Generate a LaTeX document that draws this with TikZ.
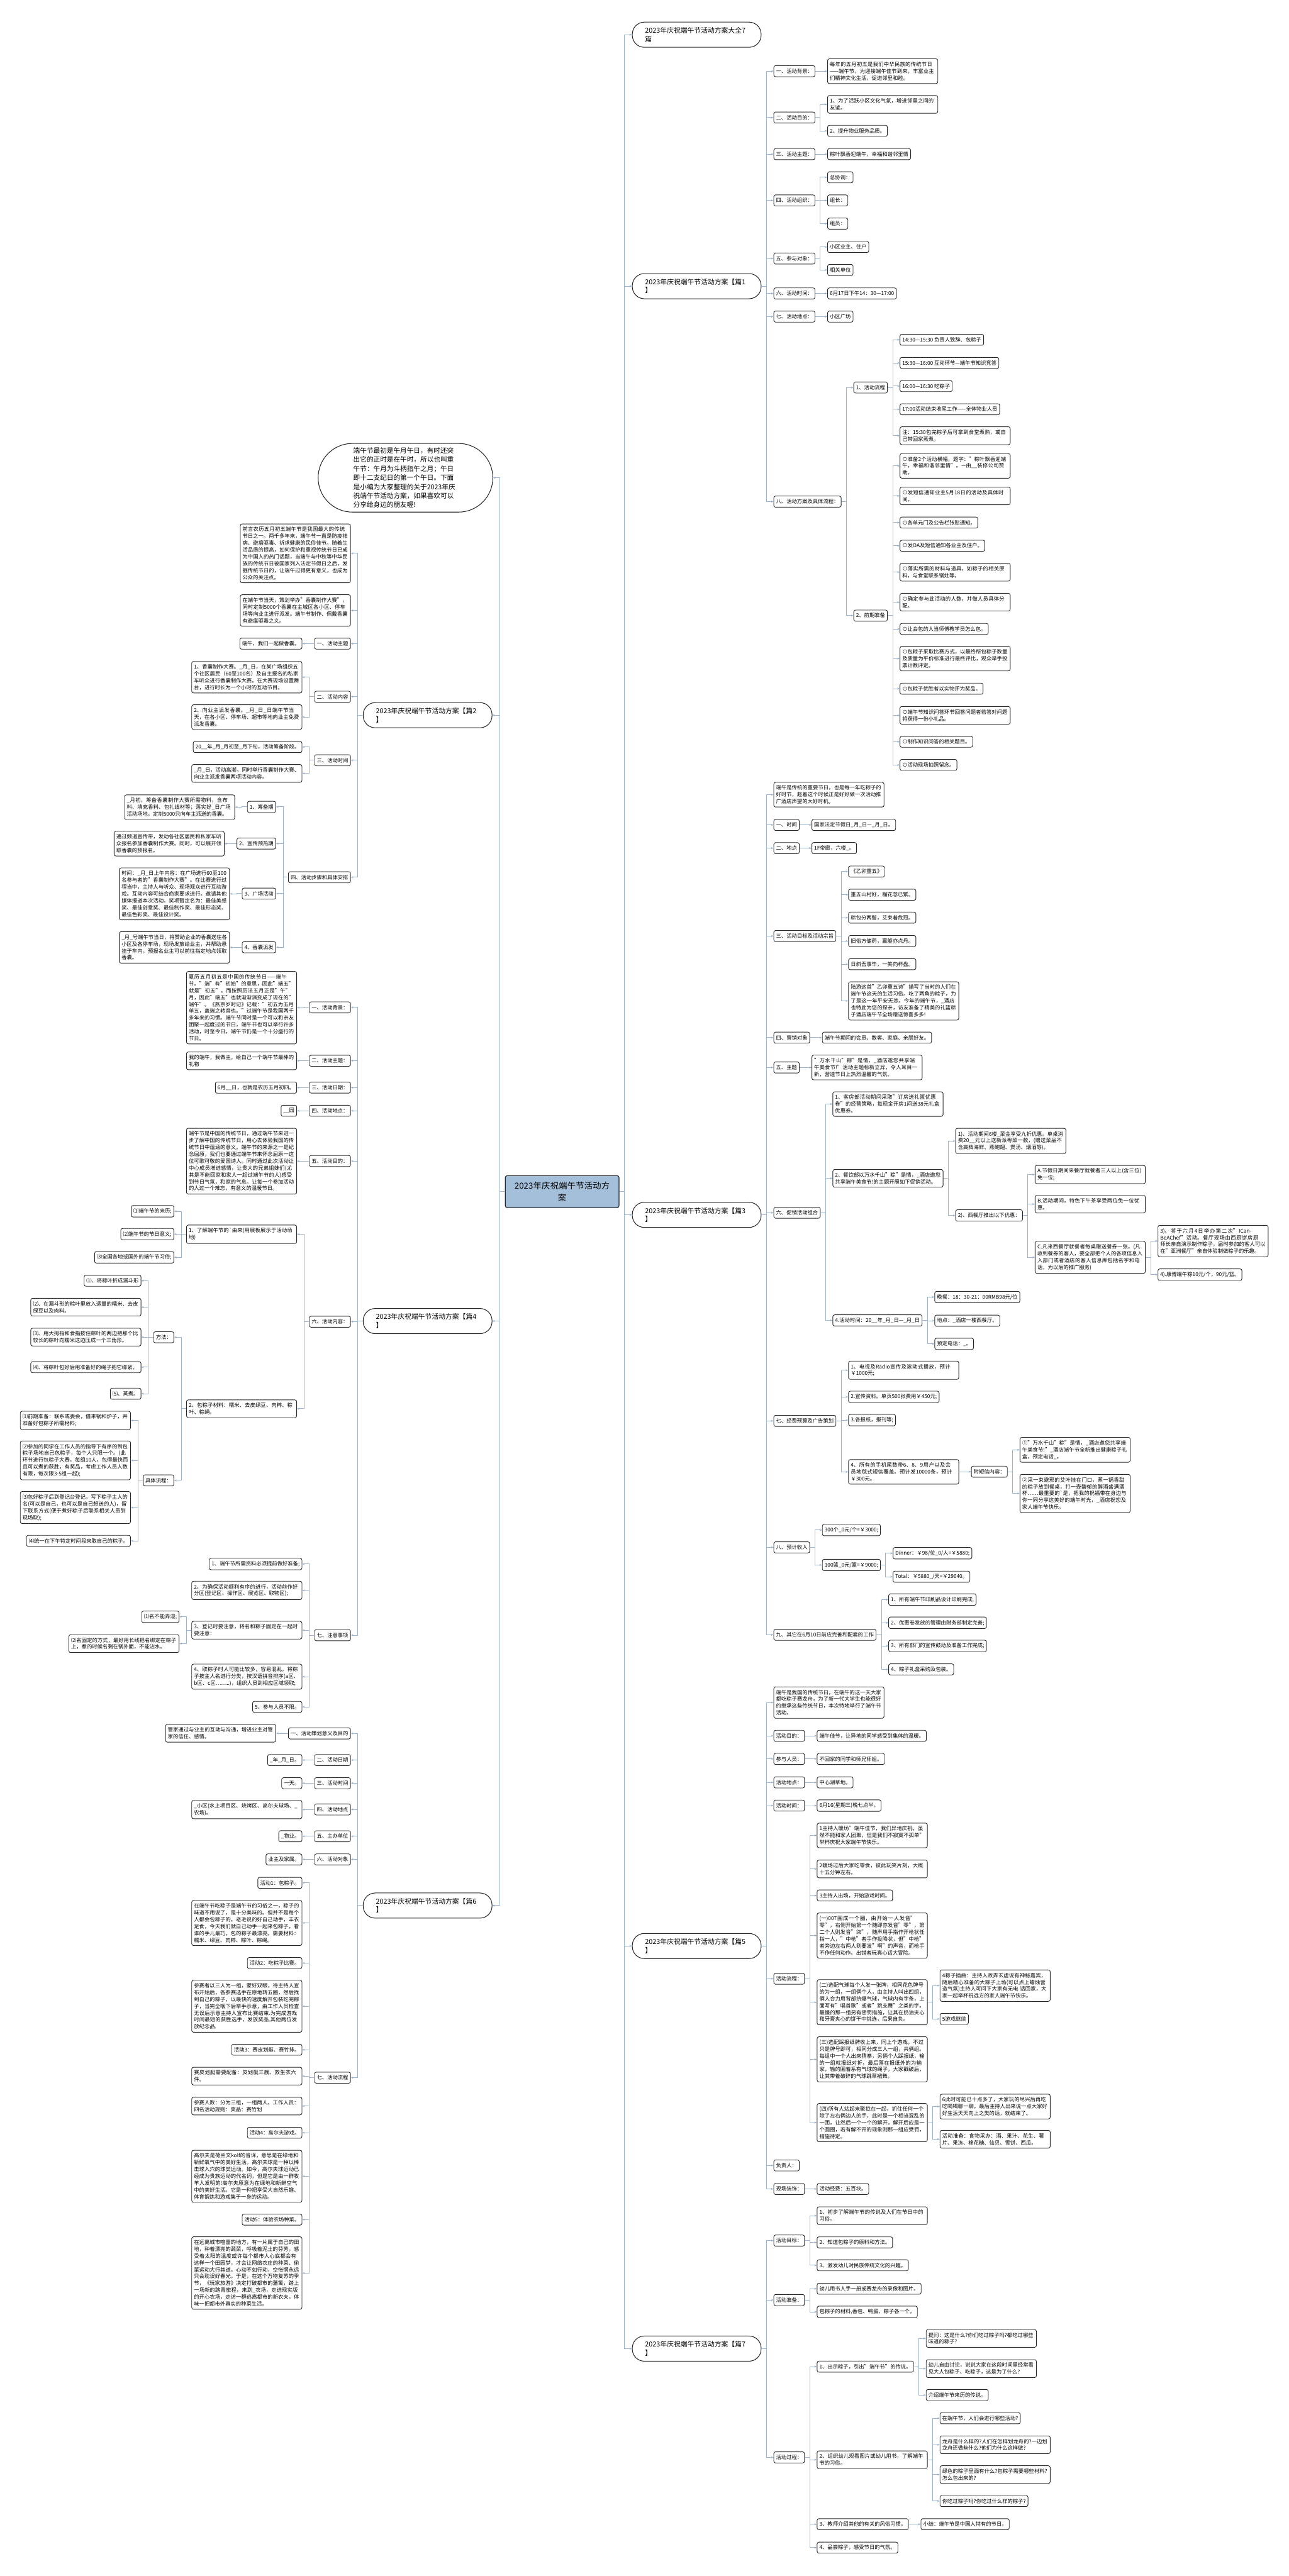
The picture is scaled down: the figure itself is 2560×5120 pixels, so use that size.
\documentclass[tikz,border=0pt]{standalone}
\usepackage{fontspec}
\setmainfont{Noto Sans CJK SC}
\XeTeXlinebreaklocale "zh"
\XeTeXlinebreakskip=0pt plus 1pt
\usetikzlibrary{arrows.meta}
\definecolor{linkblue}{HTML}{9CB4CB}
\definecolor{rootblue}{HTML}{A3BFD9}
\tikzset{
  box/.style={draw=black!85, line width=1.1pt, rounded corners=3.5pt, fill=white,
    font=\fontsize{10.4}{13.6}\selectfont, inner xsep=4.5pt, inner ysep=6pt,
    minimum height=22pt, align=left},
  long/.style={text width=210pt},
  kid/.style={box, anchor=west, xshift=24pt},
  lkid/.style={box, anchor=east, xshift=-24pt},
  pian/.style={draw=black!85, line width=1.3pt, rounded corners=24pt, fill=white,
    font=\fontsize{13.5}{17}\selectfont, text width=205pt, inner xsep=25.5pt,
    inner ysep=9.5pt, minimum height=50pt, align=left},
  intro/.style={draw=black!85, line width=1.3pt, rounded corners=68pt, fill=white,
    font=\fontsize{13.3}{18}\selectfont, text width=207pt, inner xsep=70pt,
    inner ysep=8pt, align=left},
  root/.style={draw=black!85, line width=1.4pt, rounded corners=4pt, fill=rootblue,
    font=\fontsize{16.6}{23.6}\selectfont, text width=210pt, inner xsep=8pt,
    inner ysep=12.4pt, align=center},
  link/.style={draw=linkblue, line width=1.2pt, -{Stealth[length=5pt,width=4pt]}},
}
\begin{document}
\begin{tikzpicture}[x=1pt, y=-1pt]
\fill[white] (0,0) rectangle (2560,5120);
\useasboundingbox (0,0) rectangle (2560,5120);

\node[root] (root) at (1117,2368.5) {2023年庆祝端午节活动方\\案};

% right half
\node[pian, anchor=west, xshift=25pt] (top) at (root.east |- 0,69) {2023年庆祝端午节活动方案大全7\\篇};
\node[pian, anchor=west, xshift=25pt] (p1) at (root.east |- 0,568.8) {2023年庆祝端午节活动方案【篇1\\】};
\node[pian, anchor=west, xshift=25pt] (p3) at (root.east |- 0,2414.6) {2023年庆祝端午节活动方案【篇3\\】};
\node[pian, anchor=west, xshift=25pt] (p5) at (root.east |- 0,3867.8) {2023年庆祝端午节活动方案【篇5\\】};
\node[pian, anchor=west, xshift=25pt] (p7) at (root.east |- 0,4668) {2023年庆祝端午节活动方案【篇7\\】};

% pian 1
\node[kid] (a1) at (p1.east |- 0,141.5) {一、活动背景：};
\node[kid] (a2) at (p1.east |- 0,233.6) {二、活动目的：};
\node[kid] (a3) at (p1.east |- 0,306.3) {三、活动主题：};
\node[kid] (a4) at (p1.east |- 0,398.4) {四、活动组织：};
\node[kid] (a5) at (p1.east |- 0,513.8) {五、参与对象：};
\node[kid] (a6) at (p1.east |- 0,583.2) {六、活动时间：};
\node[kid] (a7) at (p1.east |- 0,629.3) {七、活动地点：};
\node[kid] (a8) at (p1.east |- 0,997) {八、活动方案及具体流程：};
\node[kid,long] (a1-1) at (a1.east |- 0,141.5) {每年的五月初五是我们中华民族的传统节日——端午节，为迎接端午佳节到来，丰富业主们精神文化生活，促进邻里和睦。};
\node[kid,long] (a2-1) at (a2.east |- 0,207.5) {1、为了活跃小区文化气氛，增进邻里之间的友谊。};
\node[kid] (a2-2) at (a2.east |- 0,260) {2、提升物业服务品质。};
\node[kid] (a3-1) at (a3.east |- 0,306.3) {粽叶飘香迎端午，幸福和谐邻里情};
\node[kid] (a4-1) at (a4.east |- 0,352.4) {总协调：};
\node[kid] (a4-2) at (a4.east |- 0,398.4) {组长：};
\node[kid] (a4-3) at (a4.east |- 0,444.5) {组员：};
\node[kid] (a5-1) at (a5.east |- 0,491) {小区业主、住户};
\node[kid] (a5-2) at (a5.east |- 0,536.6) {相关单位};
\node[kid] (a6-1) at (a6.east |- 0,583.2) {6月17日下午14：30—17:00};
\node[kid] (a7-1) at (a7.east |- 0,629.3) {小区广场};
\node[kid] (a8-1) at (a8.east |- 0,770.2) {1、活动流程};
\node[kid] (a8-2) at (a8.east |- 0,1223.5) {2、前期准备};
\node[kid] (a8-1-1) at (a8-1.east |- 0,675.3) {14:30—15:30 负责人致辞、包粽子};
\node[kid] (a8-1-2) at (a8-1.east |- 0,721.4) {15:30—16:00 互动环节—端午节知识竞答};
\node[kid] (a8-1-3) at (a8-1.east |- 0,767.4) {16:00—16:30 吃粽子};
\node[kid] (a8-1-4) at (a8-1.east |- 0,813.5) {17:00活动结束收尾工作——全体物业人员};
\node[kid,long] (a8-1-5) at (a8-1.east |- 0,866) {注：15:30包完粽子后可拿到食堂煮熟，或自己带回家蒸煮。};
\node[kid,long] (a8-2-1) at (a8-2.east |- 0,926) {⊙准备2个活动横幅，题字："粽叶飘香迎端午，幸福和谐邻里情"。—由\_\_装修公司赞助。};
\node[kid,long] (a8-2-2) at (a8-2.east |- 0,985.7) {⊙发短信通知业主5月18日的活动及具体时间。};
\node[kid] (a8-2-3) at (a8-2.east |- 0,1038.7) {⊙各单元门及公告栏张贴通知。};
\node[kid] (a8-2-4) at (a8-2.east |- 0,1084.7) {⊙发OA及短信通知各业主及住户。};
\node[kid,long] (a8-2-5) at (a8-2.east |- 0,1137.2) {⊙落实所需的材料与道具，如粽子的相关原料，与食堂联系锅灶等。};
\node[kid,long] (a8-2-6) at (a8-2.east |- 0,1196.8) {⊙确定参与此活动的人数，并做人员具体分配。};
\node[kid] (a8-2-7) at (a8-2.east |- 0,1250) {⊙让会包的人当师傅教学员怎么包。};
\node[kid,long] (a8-2-8) at (a8-2.east |- 0,1309) {⊙包粽子采取比赛方式，以最终所包粽子数量及质量为平价标准进行最终评比，观众举手投票计数评定。};
\node[kid] (a8-2-9) at (a8-2.east |- 0,1368.8) {⊙包粽子优胜者以实物评为奖品。};
\node[kid,long] (a8-2-10) at (a8-2.east |- 0,1421.8) {⊙端午节知识问答环节回答问题者若答对问题将获得一份小礼品。};
\node[kid] (a8-2-11) at (a8-2.east |- 0,1474.3) {⊙制作知识问答的相关题目。};
\node[kid] (a8-2-12) at (a8-2.east |- 0,1520.3) {⊙活动现场拍照留念。};

% pian 3
\node[kid,long] (b0) at (p3.east |- 0,1579.5) {端午是传统的重要节日，也是每一年吃粽子的好时节，趁着这个时候正是好好做一次活动推广酒店声望的大好时机。};
\node[kid] (b1) at (p3.east |- 0,1639.6) {一、时间};
\node[kid] (b2) at (p3.east |- 0,1685.7) {二、地点};
\node[kid] (b3) at (p3.east |- 0,1860.4) {三、活动目标及活动宗旨};
\node[kid] (b4) at (p3.east |- 0,2062.4) {四、营销对象};
\node[kid] (b5) at (p3.east |- 0,2121.7) {五、主题};
\node[kid] (b6) at (p3.east |- 0,2410.3) {六、促销活动组合};
\node[kid] (b7) at (p3.east |- 0,2824.1) {七、经费预算及广告策划};
\node[kid] (b8) at (p3.east |- 0,3075.5) {八、预计收入};
\node[kid] (b9) at (p3.east |- 0,3249.2) {九、其它在6月10日前应完善和配套的工作};
\node[kid] (b1-1) at (b1.east |- 0,1639.6) {国家法定节假日\_月\_日—\_月\_日。};
\node[kid] (b2-1) at (b2.east |- 0,1685.7) {1F帝廊，六楼\_。};
\node[kid] (b3-1) at (b3.east |- 0,1732.2) {《乙卯重五》};
\node[kid] (b3-2) at (b3.east |- 0,1778.3) {重五山村好，榴花忽已繁。};
\node[kid] (b3-3) at (b3.east |- 0,1823.8) {粽包分两髻，艾束着危冠。};
\node[kid] (b3-4) at (b3.east |- 0,1870.4) {旧俗方储药，羸躯亦点丹。};
\node[kid] (b3-5) at (b3.east |- 0,1916.4) {日斜吾事毕，一笑向杯盘。};
\node[kid,long] (b3-6) at (b3.east |- 0,1989.4) {陆游这首"乙卯重五诗"描写了当时的人们在端午节这天的生活习俗。吃了两角的粽子，为了是这一年平安无恙。今年的端午节，\_酒店也特此为您的探亲，访友准备了精美的礼篮粽子酒店端午节全场赠送惊喜多多!};
\node[kid] (b4-1) at (b4.east |- 0,2062.4) {端午节期间的会员、散客、家庭、亲朋好友。};
\node[kid,long] (b5-1) at (b5.east |- 0,2121.7) {"万水千山"粽"是情，\_酒店邀您共享端午美食节!"活动主题标新立异，令人耳目一新，营造节日上热烈温馨的气氛。};
\node[kid,long] (b6-1) at (b6.east |- 0,2194.4) {1、客房部活动期间采取"订房送礼篮优惠卷"的经营策略，每现金开房1间送38元礼盒优惠券。};
\node[kid,long] (b6-2) at (b6.east |- 0,2342) {2、餐饮部以万水千山"粽"是情，\_酒店邀您共享端午美食节!的主题开展如下促销活动。};
\node[kid] (b6-3) at (b6.east |- 0,2624.4) {4.活动时间：20\_\_年\_月\_日—\_月\_日};
\node[kid,long] (b6-2-1) at (b6-2.east |- 0,2267.7) {1)、活动期间6楼\_菜金享受九折优惠。单桌消费20\_\_元以上送新派粤菜一款，(赠送菜品不含高档海鲜、燕鲍翅、煲汤、烟酒等)。};
\node[kid] (b6-2-2) at (b6-2.east |- 0,2415.8) {2)、西餐厅推出以下优惠：};
\node[kid,long] (b6a) at (b6-2-2.east |- 0,2334.5) {A.节假日期间来餐厅就餐者三人以上(含三位)免一位;};
\node[kid,long] (b6b) at (b6-2-2.east |- 0,2393.4) {B.活动期间，特色下午茶享受两位免一位优惠。};
\node[kid,long] (b6c) at (b6-2-2.east |- 0,2499) {C.凡来西餐厅就餐者每桌赠送餐券一张。(凡收到餐券的客人，要全部把个人的各项信息入入部门或者酒店的客人信息库包括名字和电话，为以后的推广服务)};
\node[kid,long] (b6c1) at (b6c.east |- 0,2466.6) {3)、将于六月4日举办第二次"ICanBeAChef"活动。餐厅现场由西厨饼房厨师长亲自演示制作粽子，届时参加的客人可以在"亚洲餐厅"亲自体验制做粽子的乐趣。};
\node[kid] (b6c2) at (b6c.east |- 0,2533.5) {4).康博端午粽10元/个，90元/篮。};
\node[kid] (b6-3-1) at (b6-3.east |- 0,2578) {晚餐：18：30-21：00RMB98元/位};
\node[kid] (b6-3-2) at (b6-3.east |- 0,2625) {地点：\_酒店一楼西餐厅。};
\node[kid] (b6-3-3) at (b6-3.east |- 0,2671) {预定电话：\_。};
\node[kid,long] (b7-1) at (b7.east |- 0,2723.4) {1、电视及Radio宣传及滚动式播放，预计￥1000元;};
\node[kid] (b7-2) at (b7.east |- 0,2776.4) {2.宣传资料。单页500张费用￥450元;};
\node[kid] (b7-3) at (b7.east |- 0,2822.5) {3.各报纸，报刊等;};
\node[kid,long] (b7-4) at (b7.east |- 0,2925.4) {4、所有的手机尾数带6、8、9用户以及会员地毯式短信覆盖。预计发10000条，预计￥300元。};
\node[kid] (b7-5) at (b7-4.east |- 0,2925.1) {附短信内容：};
\node[kid,long] (b7-5-1) at (b7-5.east |- 0,2881.6) {①"万水千山"粽"是情，\_酒店邀您共享端午美食节!"\_酒店端午节全新推出健康粽子礼盒，预定电话\_。};
\node[kid,long] (b7-5-2) at (b7-5.east |- 0,2968.4) {②采一束避邪的艾叶挂在门口，蒸一锅香甜的粽子放到餐桌，打一壶馥郁的醇酒盛满酒杯……最重要的\textasciigrave 是，把我的祝福带在身边与你一同分享这美好的端午时光，\_酒店祝您及家人端午节快乐。};
\node[kid] (b8-1) at (b8.east |- 0,3041) {300个\_0元/个=￥3000;};
\node[kid] (b8-2) at (b8.east |- 0,3110.5) {100篮\_0元/篮=￥9000;};
\node[kid] (b8-2-1) at (b8-2.east |- 0,3087.2) {Dinner：￥98/位\_0/人=￥5880;};
\node[kid] (b8-2-2) at (b8-2.east |- 0,3133.8) {Total：￥5880\_/天=￥29640。};
\node[kid] (b9-1) at (b9.east |- 0,3179.3) {1、所有端午节印刷品设计印刷完成;};
\node[kid] (b9-2) at (b9.east |- 0,3225.3) {2、优惠卷发放的管理由财务部制定完善;};
\node[kid] (b9-3) at (b9.east |- 0,3271.4) {3、所有部门的宣传鼓动及准备工作完成;};
\node[kid] (b9-4) at (b9.east |- 0,3318) {4、粽子礼盒采购及包装。};

% pian 5
\node[kid,long] (c0) at (p5.east |- 0,3384) {端午是我国的传统节日，在端午的这一天大家都吃粽子赛龙舟，为了新一代大学生也能很好的继承这些传统节日，本次特地举行了端午节活动。};
\node[kid] (c1) at (p5.east |- 0,3450) {活动目的：};
\node[kid] (c2) at (p5.east |- 0,3496) {参与人员：};
\node[kid] (c3) at (p5.east |- 0,3542.7) {活动地点：};
\node[kid] (c4) at (p5.east |- 0,3588.7) {活动时间：};
\node[kid] (c5) at (p5.east |- 0,3932.8) {活动流程：};
\node[kid] (c6) at (p5.east |- 0,4304) {负责人：};
\node[kid] (c7) at (p5.east |- 0,4350.7) {现场装饰：};
\node[kid] (c1-1) at (c1.east |- 0,3450) {端午佳节，让异地的同学感受到集体的温暖。};
\node[kid] (c2-1) at (c2.east |- 0,3496) {不回家的同学和师兄师姐。};
\node[kid] (c3-1) at (c3.east |- 0,3542.7) {中心湖草地。};
\node[kid] (c4-1) at (c4.east |- 0,3588.7) {6月16(星期三)晚七点半。};
\node[kid] (c7-1) at (c7.east |- 0,4350.7) {活动经费：五百块。};
\node[kid,long] (c5-1) at (c5.east |- 0,3648) {1主持人暖场"端午佳节，我们异地庆祝，虽然不能和家人团聚，但是我们不寂寞不孤单"举杯庆祝大家端午节快乐。};
\node[kid,long] (c5-2) at (c5.east |- 0,3714.7) {2暖场过后大家吃零食，彼此玩笑片刻，大概十五分钟左右。};
\node[kid] (c5-3) at (c5.east |- 0,3767.4) {3主持人出场，开始游戏时间。};
\node[kid,long] (c5-4) at (c5.east |- 0,3847) {(一)007围成一个圈，由开始一人发音"零"，右侧开始第一个随即亦发音"零"，第二个人则发音"柒"，随声用手指作开枪状任指一人，"中枪"者手作投降状，但"中枪"者旁边左右两人则要发"啊"的声音，而枪手不作任何动作。出错者玩真心话大冒险。};
\node[kid,long] (c5-5) at (c5.east |- 0,3979.6) {(二)选配气球每个人发一张牌，相同花色牌号的为一组，一组俩个人，由主持人叫出四组，俩人合力用背部挤爆气球，气球内有字条，上面写有"唱首歌"或者"跳支舞"之类的字。最慢的那一组另有惩罚措施，让其在奶油夹心和牙膏夹心的饼干中挑选，后果自负。};
\node[kid,long] (c5-6) at (c5.east |- 0,4093) {(三)选配踩报纸牌收上来，同上个游戏，不过只是牌号即可，相同分成三人一组，共俩组。每组中一个人出来猜拳，另俩个人踩报纸，输的一组就报纸对折，最后落在报纸外的为输家，输的围着系有气球的绳子，大家戳破后，让其带着破碎的气球跳草裙舞。};
\node[kid,long] (c5-7) at (c5.east |- 0,4218.8) {(四)所有人站起来聚拢在一起，抓住任何一个除了左右俩边人的手，此时是一个相当混乱的一团，让然后一个一个的解开，解开后应是一个圆圈，若有解不开的现象则那一组应受罚，措施待定。};
\node[kid,long] (c5-5-1) at (c5-5.east |- 0,3946.6) {4粽子插曲：主持人故弄玄虚说有神秘嘉宾，随后精心准备的大粽子上场(可以点上蜡烛营造气氛)主持人可问下大家有无电 话回家，大家一起举杯祝远方的家人端午节快乐。};
\node[kid] (c5-5-2) at (c5-5.east |- 0,4012.7) {5游戏继续};
\node[kid,long] (c5-7-1) at (c5-7.east |- 0,4186.9) {6此时可能已十点多了，大家玩的尽兴后再吃吃喝喝聊一聊。最后主持人出来说一点大家好好生活天天向上之类的话，就结束了。};
\node[kid,long] (c5-7-2) at (c5-7.east |- 0,4251.8) {活动准备：食物采办：酒、果汁、花生、薯片、果冻、棉花糖、仙贝、雪饼、西瓜。};

% pian 7
\node[kid] (d1) at (p7.east |- 0,4453.2) {活动目标：};
\node[kid] (d2) at (p7.east |- 0,4571.4) {活动准备：};
\node[kid] (d3) at (p7.east |- 0,4884.2) {活动过程：};
\node[kid,long] (d1-1) at (d1.east |- 0,4403.8) {1、初步了解端午节的传说及人们在节日中的习俗。};
\node[kid] (d1-2) at (d1.east |- 0,4456.9) {2、知道包粽子的原料和方法。};
\node[kid] (d1-3) at (d1.east |- 0,4502.4) {3、激发幼儿对民族传统文化的兴趣。};
\node[kid] (d2-1) at (d2.east |- 0,4549) {幼儿用书人手一册或赛龙舟的录像和图片。};
\node[kid] (d2-2) at (d2.east |- 0,4595) {包粽子的材料,香包、鸭蛋、粽子各一个。};
\node[kid] (d3-1) at (d3.east |- 0,4703.8) {1、出示粽子，引出"端午节"的传说。};
\node[kid,long] (d3-2) at (d3.east |- 0,4888.9) {2、组织幼儿观看图片或幼儿用书，了解端午节的习俗。};
\node[kid] (d3-3) at (d3.east |- 0,5017) {3、教师介绍其他的有关的风俗习惯。};
\node[kid] (d3-4) at (d3.east |- 0,5063.6) {4、品尝粽子，感受节日的气氛。};
\node[kid,long] (d3-1-1) at (d3-1.east |- 0,4647.8) {提问：这是什么?你们吃过粽子吗?都吃过哪些味道的粽子?};
\node[kid,long] (d3-1-2) at (d3-1.east |- 0,4707.7) {幼儿自由讨论，说说大家在这段时间里经常看见大人包粽子、吃粽子，这是为了什么?};
\node[kid] (d3-1-3) at (d3-1.east |- 0,4760.2) {介绍端午节来历的传说。};
\node[kid] (d3-2-1) at (d3-2.east |- 0,4806.3) {在端午节，人们会进行哪些活动?};
\node[kid,long] (d3-2-2) at (d3-2.east |- 0,4859.1) {龙舟是什么样的?人们在怎样划龙舟的?一边划龙舟还做些什么?他们为什么这样做?};
\node[kid,long] (d3-2-3) at (d3-2.east |- 0,4918.4) {绿色的粽子里面有什么?包粽子需要哪些材料?怎么包出来的?};
\node[kid] (d3-2-4) at (d3-2.east |- 0,4971) {你吃过粽子吗?你吃过什么样的粽子?};
\node[kid] (d3-3-1) at (d3-3.east |- 0,5017) {小结：端午节是中国人特有的节日。};

% left half
\node[intro, anchor=east, xshift=-23.5pt] (intro) at (root.west |- 0,949.6) {端午节最初是午月午日，有时还突\\出它的正时是在午时，所以也叫重\\午节：午月为斗柄指午之月；午日\\即十二支纪日的第一个午日。下面\\是小编为大家整理的关于2023年庆\\祝端午节活动方案，如果喜欢可以\\分享给身边的朋友喔!};
\node[pian, anchor=east, xshift=-25pt] (p2) at (root.west |- 0,1421.5) {2023年庆祝端午节活动方案【篇2\\】};
\node[pian, anchor=east, xshift=-25pt] (p4) at (root.west |- 0,2625.7) {2023年庆祝端午节活动方案【篇4\\】};
\node[pian, anchor=east, xshift=-25pt] (p6) at (root.west |- 0,3787.4) {2023年庆祝端午节活动方案【篇6\\】};

% pian 2
\node[lkid,long] (e1) at (p2.west |- 0,1099.8) {前言农历五月初五端午节是我国最大的传统节日之一。两千多年来，端午节一直是防疫祛病、避瘟驱毒、祈求健康的民俗佳节。随着生活品质的提高，如何保护和重视传统节日已成为中国人的热门话题，当端午与中秋等中华民族的传统节日被国家列入法定节假日之后，发掘传统节日的，让端午过得更有意义，也成为公众的关注点。};
\node[lkid,long] (e2) at (p2.west |- 0,1213.3) {在端午节当天，策划举办"香囊制作大赛"，同时定制5000个香囊在主城区各小区、停车场等向业主进行派发。端午节制作、佩戴香囊有避瘟驱毒之义。};
\node[lkid] (e3) at (p2.west |- 0,1279.3) {一、活动主题};
\node[lkid] (e4) at (p2.west |- 0,1384.8) {二、活动内容};
\node[lkid] (e5) at (p2.west |- 0,1511.1) {三、活动时间};
\node[lkid] (e6) at (p2.west |- 0,1743.6) {四、活动步骤和具体安排};
\node[lkid] (e3-1) at (e3.west |- 0,1279.3) {端午，我们一起做香囊。};
\node[lkid,long] (e4-1) at (e4.west |- 0,1346) {1、香囊制作大赛。\_月\_日，在某广场组织五个社区居民（60至100名）及自主报名的私家车听众进行香囊制作大赛。在大赛现场设置舞台，进行时长为一个小时的互动节目。};
\node[lkid,long] (e4-2) at (e4.west |- 0,1425.2) {2、向业主派发香囊。\_月\_日\_日端午节当天，在各小区、停车场、超市等地向业主免费派发香囊。};
\node[lkid] (e5-1) at (e5.west |- 0,1484.7) {20\_\_年\_月\_月初至\_月下旬，活动筹备阶段。};
\node[lkid,long] (e5-2) at (e5.west |- 0,1537.2) {\_月\_日，活动高潮，同时举行香囊制作大赛、向业主派发香囊两项活动内容。};
\node[lkid] (e6-1) at (e6.west |- 0,1603.7) {1、筹备期};
\node[lkid] (e6-2) at (e6.west |- 0,1676.6) {2、宣传预热期};
\node[lkid] (e6-3) at (e6.west |- 0,1776.1) {3、广场活动};
\node[lkid] (e6-4) at (e6.west |- 0,1882.7) {4、香囊派发};
\node[lkid,long] (e6-1-1) at (e6-1.west |- 0,1604.3) {\_月初，筹备香囊制作大赛所需物料，含布料、填充香料、包扎线材等；落实好\_日广场活动场地。定制5000只向车主派送的香囊。};
\node[lkid,long] (e6-2-1) at (e6-2.west |- 0,1676.9) {通过频道宣传带，发动各社区居民和私家车听众报名参加香囊制作大赛。同时，可以展开领取香囊的预报名。};
\node[lkid,long] (e6-3-1) at (e6-3.west |- 0,1776.6) {时间：\_月\_日上午内容：在广场进行60至100名参与者的"香囊制作大赛"。在比赛进行过程当中，主持人与听众、现场观众进行互动游戏。互动内容可结合商家要求进行。邀请其他媒体报道本次活动。奖项暂定名为：最佳美感奖、最佳创意奖、最佳制作奖、最佳形态奖、最佳色彩奖、最佳设计奖。};
\node[lkid,long] (e6-4-1) at (e6-4.west |- 0,1883) {\_月\_号端午节当日，将赞助企业的香囊送往各小区及各停车场，现场发放给业主，并帮助悬挂于车内。预报名业主可以前往指定地点领取香囊。};

% pian 4
\node[lkid] (f1) at (p4.west |- 0,2002.3) {一、活动背景：};
\node[lkid] (f2) at (p4.west |- 0,2108.3) {二、活动主题：};
\node[lkid] (f3) at (p4.west |- 0,2161.7) {三、活动日期：};
\node[lkid] (f4) at (p4.west |- 0,2207.7) {四、活动地点：};
\node[lkid] (f5) at (p4.west |- 0,2307.6) {五、活动目的：};
\node[lkid] (f6) at (p4.west |- 0,2627) {六、活动内容：};
\node[lkid] (f7) at (p4.west |- 0,3250) {七、注意事项};
\node[lkid,long] (f1-1) at (f1.west |- 0,2002.8) {夏历五月初五是中国的传统节日——端午节。"端"有"初始"的意思，因此"端五"就是"初五"。而按照历法五月正是"午"月，因此"端五"也就渐渐演变成了现在的"端午"。《燕京岁时记》记载："初五为五月单五，盖端之转音也。"过端午节是我国两千多年来的习惯。端午节同时是一个可以和亲友团聚一起度过的节日，端午节也可以举行许多活动，时至今日，端午节仍是一个十分盛行的节日。};
\node[lkid,long] (f2-1) at (f2.west |- 0,2108.5) {我的端午，我做主，给自己一个端午节最棒的礼物};
\node[lkid] (f3-1) at (f3.west |- 0,2161.7) {6月\_\_日，也就是农历五月初四。};
\node[lkid] (f4-1) at (f4.west |- 0,2207.7) {\_\_园};
\node[lkid,long] (f5-1) at (f5.west |- 0,2307.9) {端午节是中国的传统节日，通过端午节来进一步了解中国的传统节日，用心去体验我国的传统节日中蕴涵的意义。端午节的来源之一是纪念屈原，我们也要通过端午节来怀念屈原一这位可歌可敬的爱国诗人。同时通过此次活动让中心成员增进感情，让贵大的兄弟姐妹们(尤其是不能回家和家人一起过端午节的人)感受到节日气氛，和家的气息。让每一个参加活动的人过一个难忘，有意义的温暖节日。};
\node[lkid,long] (f6-1) at (f6.west |- 0,2453.2) {1、了解端午节的\textasciigrave 由来(用展板展示于活动场地)};
\node[lkid,long] (f6-2) at (f6.west |- 0,2799.9) {2、包粽子材料：糯米、去皮绿豆、肉粹、粽叶、粽绳。};
\node[lkid] (f6-1-1) at (f6-1.west |- 0,2407.5) {⑴端午节的来历;};
\node[lkid] (f6-1-2) at (f6-1.west |- 0,2453) {⑵端午节的节日意义;};
\node[lkid] (f6-1-3) at (f6-1.west |- 0,2499) {⑶全国各地或国外的端午节习俗;};
\node[lkid] (f6-2a) at (f6-2.west |- 0,2657.9) {方法：};
\node[lkid] (f6-2b) at (f6-2.west |- 0,2942.4) {具体流程：};
\node[lkid] (f6-2a-1) at (f6-2a.west |- 0,2545.5) {⑴、将粽叶折成漏斗形};
\node[lkid,long] (f6-2a-2) at (f6-2a.west |- 0,2598) {⑵、在漏斗形的粽叶里放入适量的糯米、去皮绿豆以及肉料。};
\node[lkid,long] (f6-2a-3) at (f6-2a.west |- 0,2657.6) {⑶、用大拇指和食指按住粽叶的两边把那个比较长的粽叶向糯米这边压成一个三角形。};
\node[lkid,long] (f6-2a-4) at (f6-2a.west |- 0,2717.4) {⑷、将粽叶包好后用准备好的绳子把它绑紧。};
\node[lkid] (f6-2a-5) at (f6-2a.west |- 0,2770.1) {⑸、蒸煮。};
\node[lkid,long] (f6-2b-1) at (f6-2b.west |- 0,2823.2) {⑴前期准备：联系或委会，借来锅和炉子，并准备好包粽子所需材料;};
\node[lkid,long] (f6-2b-2) at (f6-2b.west |- 0,2902.6) {⑵参加的同学在工作人员的指导下有序的到包粽子场地自己包粽子，每个人只限一个。(此环节进行包粽子大赛，每组10人，包得最快而且可以煮的获胜，有奖品，考虑工作人员人数有限，每次限3-5组一起);};
\node[lkid,long] (f6-2b-3) at (f6-2b.west |- 0,2996.3) {⑶包好粽子后到登记台登记，写下粽子主人的名(可以是自己，也可以是自己想送的人)，留下联系方式(便于煮好粽子后联系相关人员到现场取);};
\node[lkid] (f6-2b-4) at (f6-2b.west |- 0,3062.5) {⑷统一在下午特定时间段来取自己的粽子。};
\node[lkid] (f7-1) at (f7.west |- 0,3108.6) {1、端午节所需资料必须提前做好准备;};
\node[lkid,long] (f7-2) at (f7.west |- 0,3161) {2、为确保活动顺利有序的进行，活动前作好分区(登记区、操作区、展览区、取物区);};
\node[lkid,long] (f7-3) at (f7.west |- 0,3240.1) {3、登记时要注意，将名和粽子固定在一起时要注意：};
\node[lkid,long] (f7-4) at (f7.west |- 0,3332.5) {4、取粽子时人可能比较多，容易混乱。将粽子按主人名进行分类，按汉语拼音排序(a区、b区、c区……..)，组织人员到相应区域领取;};
\node[lkid] (f7-5) at (f7.west |- 0,3392.5) {5、参与人员不限。};
\node[lkid] (f7-3-1) at (f7-3.west |- 0,3213.5) {⑴名不能弄混;};
\node[lkid,long] (f7-3-2) at (f7-3.west |- 0,3266.8) {⑵名固定的方式，最好用长线把名绑定在粽子上，煮的时候名剩在锅外面，不能沾水。};

% pian 6
\node[lkid] (g1) at (p6.west |- 0,3445.3) {一、活动策划意义及目的};
\node[lkid] (g2) at (p6.west |- 0,3498.2) {二、活动日期};
\node[lkid] (g3) at (p6.west |- 0,3544.2) {三、活动时间};
\node[lkid] (g4) at (p6.west |- 0,3596.4) {四、活动地点};
\node[lkid] (g5) at (p6.west |- 0,3649.7) {五、主办单位};
\node[lkid] (g6) at (p6.west |- 0,3695.7) {六、活动对象};
\node[lkid] (g7) at (p6.west |- 0,4129.5) {七、活动流程};
\node[lkid,long] (g1-1) at (g1.west |- 0,3445) {管家通过与业主的互动与沟通，增进业主对管家的信任、感情。};
\node[lkid] (g2-1) at (g2.west |- 0,3498.2) {\_年\_月\_日。};
\node[lkid] (g3-1) at (g3.west |- 0,3544.2) {一天。};
\node[lkid,long] (g4-1) at (g4.west |- 0,3596.6) {\_小区(水上项目区、烧烤区、高尔夫球场、\_农场)。};
\node[lkid] (g5-1) at (g5.west |- 0,3649.7) {\_物业。};
\node[lkid] (g6-1) at (g6.west |- 0,3695.7) {业主及家属。};
\node[lkid] (g7-1) at (g7.west |- 0,3742.3) {活动1：包粽子。};
\node[lkid,long] (g7-2) at (g7.west |- 0,3822) {在端午节吃粽子是端午节的习俗之一，粽子的味道不用说了，是十分美味的。但并不是每个人都会包粽子的。老毛说的好自己动手，丰衣足食，今天我们就自己动手一起来包粽子，看谁的手儿最巧，包的粽子最漂亮。需要材料：糯米、绿豆、肉粹、粽叶、粽绳。};
\node[lkid] (g7-3) at (g7.west |- 0,3901.7) {活动2：吃粽子比赛。};
\node[lkid,long] (g7-4) at (g7.west |- 0,3987.5) {参赛者以三人为一组，蒙好双眼，待主持人宣布开始后，各参赛选手在原地转五圈，然后找到自己的粽子，以最快的速度解开包装吃完粽子，当完全咽下后举手示意，由工作人员检查无误后示意主持人宣布比赛结束.为完成游戏时间最短的获胜选手，发放奖品.其他两位发放纪念品.};
\node[lkid] (g7-5) at (g7.west |- 0,4074) {活动3：赛皮划艇、赛竹排。};
\node[lkid,long] (g7-6) at (g7.west |- 0,4126.4) {赛皮划艇需要配备：皮划艇三艘、救生衣六件。};
\node[lkid,long] (g7-7) at (g7.west |- 0,4185.9) {参赛人数：分为三组，一组两人。工作人员：四名活动规则：奖品：赛竹划};
\node[lkid] (g7-8) at (g7.west |- 0,4239) {活动4：高尔夫游戏。};
\node[lkid,long] (g7-9) at (g7.west |- 0,4325.5) {高尔夫是荷兰文kolf的音译，意思是在绿地和新鲜氧气中的美好生活。高尔夫球是一种以棒击球入穴的球类运动。如今，高尔夫球运动已经成为贵族运动的代名词，但是它是由一群牧羊人发明的!高尔夫原意为在绿地和新鲜空气中的美好生活。它是一种把享受大自然乐趣、体育锻炼和游戏集于一身的运动。};
\node[lkid] (g7-10) at (g7.west |- 0,4411.6) {活动5：体验农场种菜。};
\node[lkid,long] (g7-11) at (g7.west |- 0,4517.8) {在远离城市喧嚣的地方，有一片属于自己的田地，种着漂亮的蔬菜，呼吸着泥土的芬芳，感受着太阳的温度或许每个都市人心底都会有这样一个田园梦，才会让网络农庄的种菜、偷菜运动大行其道。心动不如行动，空怅惘永远只会耽误好春光。于是，在这个万物复苏的季节，《玩家旅游》决定打破都市的藩篱，踏上一场新的踏青旅程，来到\_农场，走进现实版的开心农场，走访一群逃离都市的新农夫，体味一把都市外真实的种菜生活。};

% connectors, right half
\foreach \p/\kids in {root/{top,p1,p3,p5,p7},
    p1/{a1,a2,a3,a4,a5,a6,a7,a8}, a1/{a1-1}, a2/{a2-1,a2-2}, a3/{a3-1},
    a4/{a4-1,a4-2,a4-3}, a5/{a5-1,a5-2}, a6/{a6-1}, a7/{a7-1}, a8/{a8-1,a8-2},
    a8-1/{a8-1-1,a8-1-2,a8-1-3,a8-1-4,a8-1-5},
    a8-2/{a8-2-1,a8-2-2,a8-2-3,a8-2-4,a8-2-5,a8-2-6,a8-2-7,a8-2-8,a8-2-9,a8-2-10,a8-2-11,a8-2-12},
    p3/{b0,b1,b2,b3,b4,b5,b6,b7,b8,b9}, b1/{b1-1}, b2/{b2-1},
    b3/{b3-1,b3-2,b3-3,b3-4,b3-5,b3-6}, b4/{b4-1}, b5/{b5-1},
    b6/{b6-1,b6-2,b6-3}, b6-2/{b6-2-1,b6-2-2}, b6-2-2/{b6a,b6b,b6c}, b6c/{b6c1,b6c2},
    b6-3/{b6-3-1,b6-3-2,b6-3-3}, b7/{b7-1,b7-2,b7-3,b7-4}, b7-4/{b7-5},
    b7-5/{b7-5-1,b7-5-2}, b8/{b8-1,b8-2}, b8-2/{b8-2-1,b8-2-2}, b9/{b9-1,b9-2,b9-3,b9-4},
    p5/{c0,c1,c2,c3,c4,c5,c6,c7}, c1/{c1-1}, c2/{c2-1}, c3/{c3-1}, c4/{c4-1}, c7/{c7-1},
    c5/{c5-1,c5-2,c5-3,c5-4,c5-5,c5-6,c5-7}, c5-5/{c5-5-1,c5-5-2}, c5-7/{c5-7-1,c5-7-2},
    p7/{d1,d2,d3}, d1/{d1-1,d1-2,d1-3}, d2/{d2-1,d2-2}, d3/{d3-1,d3-2,d3-3,d3-4},
    d3-1/{d3-1-1,d3-1-2,d3-1-3}, d3-2/{d3-2-1,d3-2-2,d3-2-3,d3-2-4}, d3-3/{d3-3-1}}
  \foreach \k in \kids
    \draw[link] (\p.east) -- ++(10,0) |- (\k.west);

% connectors, left half
\foreach \p/\kids in {root/{intro,p2,p4,p6},
    p2/{e1,e2,e3,e4,e5,e6}, e3/{e3-1}, e4/{e4-1,e4-2}, e5/{e5-1,e5-2},
    e6/{e6-1,e6-2,e6-3,e6-4}, e6-1/{e6-1-1}, e6-2/{e6-2-1}, e6-3/{e6-3-1}, e6-4/{e6-4-1},
    p4/{f1,f2,f3,f4,f5,f6,f7}, f1/{f1-1}, f2/{f2-1}, f3/{f3-1}, f4/{f4-1}, f5/{f5-1},
    f6/{f6-1,f6-2}, f6-1/{f6-1-1,f6-1-2,f6-1-3}, f6-2/{f6-2a,f6-2b},
    f6-2a/{f6-2a-1,f6-2a-2,f6-2a-3,f6-2a-4,f6-2a-5}, f6-2b/{f6-2b-1,f6-2b-2,f6-2b-3,f6-2b-4},
    f7/{f7-1,f7-2,f7-3,f7-4,f7-5}, f7-3/{f7-3-1,f7-3-2},
    p6/{g1,g2,g3,g4,g5,g6,g7}, g1/{g1-1}, g2/{g2-1}, g3/{g3-1}, g4/{g4-1}, g5/{g5-1}, g6/{g6-1},
    g7/{g7-1,g7-2,g7-3,g7-4,g7-5,g7-6,g7-7,g7-8,g7-9,g7-10,g7-11}}
  \foreach \k in \kids
    \draw[link] (\p.west) -- ++(-10,0) |- (\k.east);
\end{tikzpicture}
\end{document}
